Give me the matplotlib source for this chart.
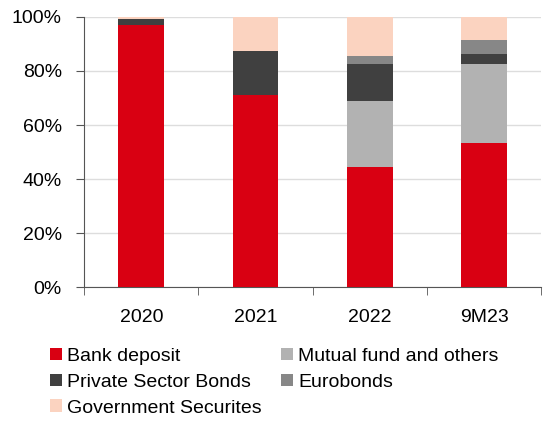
import matplotlib
matplotlib.use("Agg")
import matplotlib.pyplot as plt
import matplotlib.ticker as ticker
import numpy as np

plt.rcParams['font.family'] = ['Liberation Sans', 'DejaVu Sans']

periods = ['2020', '2021', '2022', '9M23']
bank_deposit = [97.0, 71.2, 44.6, 53.4]
mutual_fund = [0.0, 0.0, 24.3, 29.2]
private_bonds = [2.3, 16.1, 13.6, 3.8]
eurobonds = [0.0, 0.0, 3.2, 5.0]
gov_securities = [0.7, 12.7, 14.3, 8.6]

series = [
    ('Bank deposit', bank_deposit, '#D90012'),
    ('Mutual fund and others', mutual_fund, '#B2B2B2'),
    ('Private Sector Bonds', private_bonds, '#404040'),
    ('Eurobonds', eurobonds, '#878787'),
    ('Government Securites', gov_securities, '#FBD3C0'),
]

fig = plt.figure(figsize=(5.5, 4.23), dpi=100)
ax = fig.add_axes([0.153, 0.321, 0.831, 0.639])

x = np.arange(len(periods))
bottom = np.zeros(len(periods))
bars = {}
for name, vals, col in series:
    bars[name] = ax.bar(x, vals, 0.4, bottom=bottom, color=col, label=name, zorder=3)
    bottom += np.array(vals)

ax.set_xlim(-0.5, len(periods) - 0.5)
ax.set_ylim(0, 100)
ax.yaxis.set_major_locator(ticker.MultipleLocator(20))
ax.yaxis.set_major_formatter(ticker.FuncFormatter(lambda v, p: '%d%%' % v))
ax.grid(axis='y', color='#DDDDDD', linewidth=1, zorder=0)

ax.set_xticks(x)
ax.set_xticklabels(periods)
ax.set_xticks(np.arange(-0.5, len(periods)), minor=True)
ax.tick_params(axis='x', which='major', length=0, pad=16, labelsize=14)
ax.tick_params(axis='x', which='minor', length=6, direction='out', color='#555555')
ax.tick_params(axis='y', length=6, direction='out', color='#555555', pad=10, labelsize=14)

for s in ['top', 'right']:
    ax.spines[s].set_visible(False)
for s in ['left', 'bottom']:
    ax.spines[s].set_color('#555555')

order = ['Bank deposit', 'Private Sector Bonds', 'Government Securites',
         'Mutual fund and others', 'Eurobonds']
fig.legend([bars[n] for n in order], order, ncol=2, frameon=False,
           loc='upper left', bbox_to_anchor=(0.091, 0.178), fontsize=14,
           handlelength=0.62, handleheight=0.62, handletextpad=0.25,
           columnspacing=1.0, labelspacing=0.45, borderaxespad=0, borderpad=0)

plt.savefig('out.png', dpi=100)
